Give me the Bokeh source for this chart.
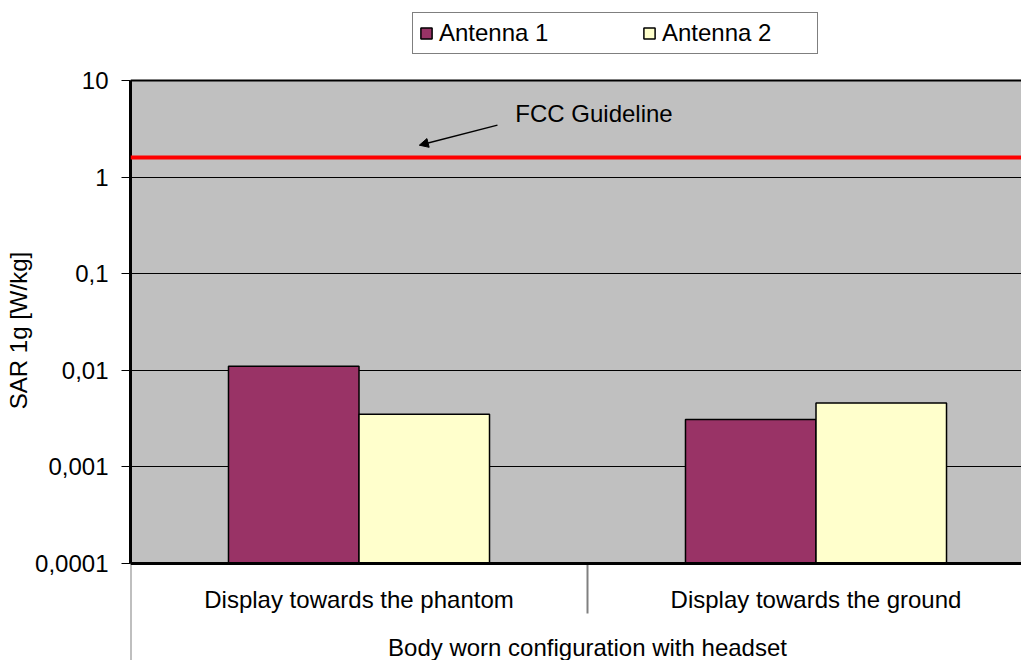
import numpy as np
from bokeh.plotting import figure
from bokeh.models import (Range1d, FixedTicker, Span, Arrow, NormalHead, BoxAnnotation,
                          Label, Legend, LegendItem, ColumnDataSource)
from bokeh.core.properties import value
from bokeh.embed import file_html
from bokeh.resources import INLINE

# ---- data ----
categories = ["Display towards the phantom", "Display towards the ground"]
group_label = "Body worn configuration with headset"
series_names = ["Antenna 1", "Antenna 2"]
antenna1 = [0.011, 0.0031]
antenna2 = [0.0035, 0.0046]
fcc_limit = 1.6
fcc_text = "FCC Guideline"
y_ticks = [0.0001, 0.001, 0.01, 0.1, 1, 10]
y_tick_labels = ["0,0001", "0,001", "0,01", "0,1", "1", "10"]
y_label = "SAR 1g [W/kg]"

# ---- styles / layout ----
colors = ["#993366", "#FFFFCC"]
FONT = "Liberation Sans"
FS = "24px"
bar_w = 0.2856
W, H = 1021, 660
LEFT = 130
cat_px = 457                                   # pixel width of one category
x_view_end = (W - LEFT) / cat_px
plot_top_px, plot_bottom_px = 80, 563          # pixel rows of 10 and 0.0001
dec_px = (plot_bottom_px - plot_top_px) / (len(y_ticks) - 1)
lo_dec, hi_dec = np.log10(y_ticks[0]), np.log10(y_ticks[-1])


def y_below(px):
    """log-axis value that lies px pixels below the 0.0001 line"""
    return 10 ** (lo_dec - px / dec_px)


y_start = y_below(H - plot_bottom_px)
y_end = 10 ** (hi_dec + plot_top_px / dec_px)

idx = np.arange(len(categories))

p = figure(width=W, height=H, x_range=Range1d(0, x_view_end),
           y_range=Range1d(y_start, y_end), y_axis_type="log", x_axis_location=None,
           output_backend="svg", toolbar_location=None)
p.min_border_left = LEFT
p.min_border_top = 0
p.min_border_right = 0
p.min_border_bottom = 0
p.background_fill_color = "white"
p.border_fill_color = "white"
p.outline_line_color = None

# gray plot area
p.add_layout(BoxAnnotation(bottom=y_ticks[0], top=y_ticks[-1], fill_color="#C0C0C0",
                           fill_alpha=1, line_color=None, level="image"))

# bars
bottoms = [y_ticks[0]] * len(categories)
src1 = ColumnDataSource(dict(x=idx + 0.5 - bar_w / 2, top=antenna1, bottom=bottoms))
src2 = ColumnDataSource(dict(x=idx + 0.5 + bar_w / 2, top=antenna2, bottom=bottoms))
r1 = p.vbar(x="x", top="top", bottom="bottom", width=bar_w, source=src1,
            fill_color=colors[0], line_color="black", line_width=1.5)
r2 = p.vbar(x="x", top="top", bottom="bottom", width=bar_w, source=src2,
            fill_color=colors[1], line_color="black", line_width=1.5)

# plot area borders (top and bottom)
p.add_layout(Span(location=y_ticks[-1], dimension="width", line_color="black", line_width=2))
p.add_layout(Span(location=y_ticks[0], dimension="width", line_color="black", line_width=3))

# FCC line
p.add_layout(Span(location=fcc_limit, dimension="width", line_color="#FF0000", line_width=4))
p.add_layout(Arrow(end=NormalHead(size=9, fill_color="black", line_color="black"),
                   x_start=0.803, y_start=3.45, x_end=0.632, y_end=2.14,
                   line_color="black", line_width=1.5))
p.add_layout(Label(x=0.842, y=4.55, text=fcc_text, text_font=FONT, text_font_size=FS,
                   text_color="black", text_baseline="alphabetic"))

# y axis
yax = p.yaxis[0]
yax.bounds = (y_ticks[0], y_ticks[-1])
yax.ticker = FixedTicker(ticks=y_ticks, minor_ticks=[])
yax.major_label_overrides = dict(zip(y_ticks, y_tick_labels))
yax.major_label_text_font = FONT
yax.major_label_text_font_size = FS
yax.major_label_text_color = "black"
yax.major_label_standoff = 13
yax.major_tick_out = 9
yax.major_tick_in = 0
yax.major_tick_line_color = "black"
yax.axis_line_width = 3
yax.axis_line_color = "black"
yax.axis_label = y_label
yax.axis_label_text_font = FONT
yax.axis_label_text_font_size = FS
yax.axis_label_text_font_style = "normal"
yax.axis_label_text_color = "black"
yax.axis_label_standoff = 0

p.ygrid.ticker = FixedTicker(ticks=y_ticks, minor_ticks=[])
p.ygrid.grid_line_color = "black"
p.ygrid.grid_line_alpha = 1
p.ygrid.grid_line_width = 1
p.xgrid.visible = False

# category axis (drawn below the 0.0001 line)
sep_x = [0.0, float(len(categories) / 2)]
sep_y_end = [y_start, y_below(50)]
p.segment(x0=sep_x, y0=[y_ticks[0]] * 2, x1=sep_x, y1=sep_y_end,
          line_color="#808080", line_width=2)
p.text(x=list(idx + 0.5), y=[y_below(36)] * len(categories), text=categories,
       text_font=value(FONT), text_font_size=value(FS), text_color="black",
       text_align="center", text_baseline="alphabetic")
p.text(x=[len(categories) / 2], y=[y_below(84)], text=[group_label],
       text_font=value(FONT), text_font_size=value(FS), text_color="black",
       text_align="center", text_baseline="alphabetic")

# legend (placed above the plot area, inside the frame)
legend = Legend(items=[LegendItem(label=series_names[0], renderers=[r1]),
                       LegendItem(label=series_names[1], renderers=[r2])],
                orientation="horizontal", location=(282, 606))
legend.label_text_font = FONT
legend.label_text_font_size = FS
legend.label_text_color = "black"
legend.glyph_width = 14
legend.glyph_height = 14
legend.label_height = 14
legend.label_standoff = 6
legend.label_width = 149
legend.spacing = 54
legend.padding = 6
legend.margin = 0
legend.border_line_color = "black"
legend.border_line_width = 1
legend.background_fill_color = "white"
legend.background_fill_alpha = 1
p.add_layout(legend, "center")

open("out.html", "w").write(file_html(p, INLINE))
